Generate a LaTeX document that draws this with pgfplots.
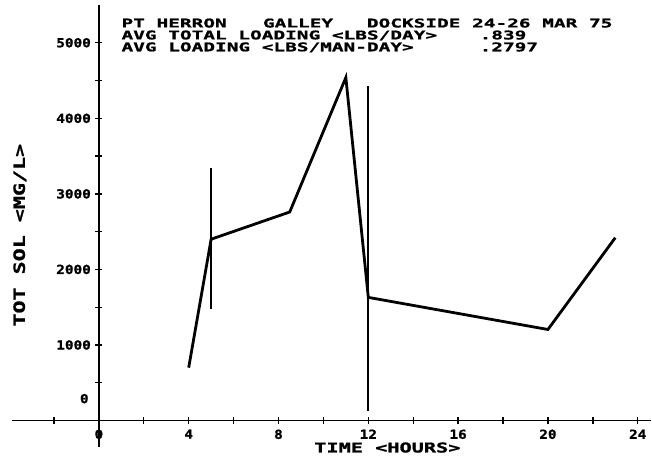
\documentclass[border=0pt]{standalone}
\usepackage{fontspec}
\setmainfont{DejaVu Sans}
\newfontfamily\titlefont{DejaVu Sans Mono}[FakeStretch=1.62, FakeBold=1.2]
\newfontfamily\xlabfont{DejaVu Sans Mono}[FakeStretch=1.5, FakeBold=1.2]
\newfontfamily\ylabfont{DejaVu Sans Mono}[FakeStretch=1.4, FakeBold=1.2]
\newfontfamily\tickfont{DejaVu Sans Mono}[FakeStretch=1.15, FakeBold=1.2]
\usepackage{pgfplots}
\pgfplotsset{compat=1.18}

\begin{document}
\begin{tikzpicture}
\begin{axis}[
    scale only axis,
    width=640pt, height=443pt,
    axis lines=middle,
    axis line style={-, line width=1.6pt},
    xmin=-3.87, xmax=24.6,
    ymin=-356, ymax=5500,
    xtick={0,4,...,24},
    minor xtick={-2,2,6,10,14,18,22},
    ytick={1000,2000,...,5000},
    minor ytick={500,1500,...,4500},
    hide obscured x ticks=false,
    tick align=center,
    major tick length=7pt, minor tick length=7pt,
    every tick/.style={black, line width=1.4pt},
    scaled y ticks=false,
    /pgf/number format/1000 sep={},
    /pgf/number format/assume math mode=true,
    ticklabel style={font=\tickfont\bfseries\fontsize{12.5}{13}\selectfont},
    xticklabel style={yshift=-2pt},
    yticklabel style={xshift=-1pt},
    clip=false,
]
% main series
\addplot[black, line width=2.8pt, line join=miter] coordinates {
    (4,700) (5,2400) (8.5,2760) (11,4540) (12,1630) (20,1205) (23,2420)
};
% vertical range bars
\addplot[black, line width=2.3pt] coordinates {(5,1470) (5,3340)};
\addplot[black, line width=2.3pt] coordinates {(12,130) (12,4430)};

% zero label on the y axis
\node[anchor=east, font=\tickfont\bfseries\fontsize{12.5}{13}\selectfont]
    at (axis cs:-0.3,290) {0};

% header text
\begin{scope}[every node/.style={anchor=base west, inner sep=0pt,
    text height=9pt, text depth=1.5pt,
    font=\titlefont\bfseries\fontsize{12}{12}\selectfont}]
\node at (axis cs:1.0,5203) {PT HERRON};
\node at (axis cs:7.3,5203) {GALLEY};
\node at (axis cs:11.93,5203) {DOCKSIDE 24-26 MAR 75};
\node at (axis cs:1.0,5045) {AVG TOTAL LOADING <LBS/DAY>};
\node at (axis cs:16.95,5045) {.839};
\node at (axis cs:1.0,4887) {AVG LOADING <LBS/MAN-DAY>};
\node at (axis cs:16.95,4887) {.2797};
\end{scope}

% axis titles
\node[anchor=base, inner sep=0pt, font=\xlabfont\bfseries\fontsize{13.5}{14}\selectfont]
    at (axis cs:12.85,-422) {TIME <HOURS>};
\node[rotate=90, inner sep=0pt, font=\ylabfont\bfseries\fontsize{15.5}{16}\selectfont]
    at (axis cs:-3.52,2453) {TOT SOL <MG/L>};

% page frame matching the reference margins
\path ([shift={(-12pt,-11pt)}]rel axis cs:0,0) ([shift={(0pt,5pt)}]rel axis cs:1,1);
\end{axis}
\end{tikzpicture}
\end{document}
